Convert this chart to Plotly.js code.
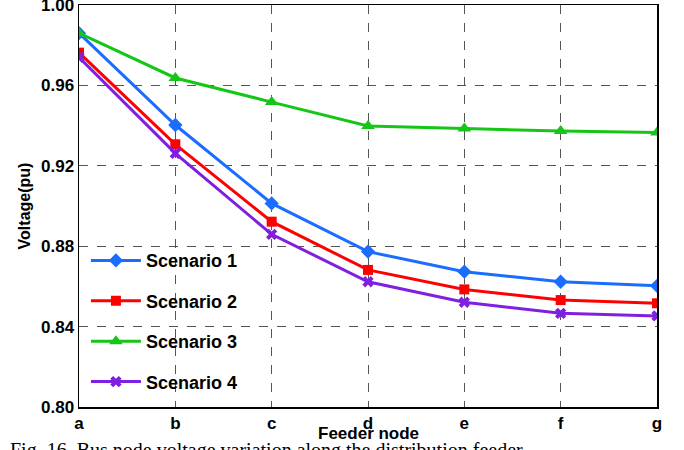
<!DOCTYPE html>
<html>
<head>
<meta charset="utf-8">
<script src="https://cdn.plot.ly/plotly-3.0.1.min.js"></script>
<style>html,body{margin:0;padding:0;background:#fff;}#chart{width:684px;height:450px;}</style>
</head>
<body>
<div id="chart"></div>
<script>
const nodes = ['a', 'b', 'c', 'd', 'e', 'f', 'g'];
const scenario1 = [0.986, 0.9403, 0.9013, 0.8773, 0.8673, 0.8623, 0.8603];
const scenario2 = [0.9763, 0.9307, 0.8922, 0.8682, 0.8585, 0.8532, 0.8516];
const scenario3 = [0.986, 0.9637, 0.9517, 0.9398, 0.9385, 0.9373, 0.9366];
const scenario4 = [0.974, 0.9262, 0.8859, 0.8623, 0.8521, 0.8466, 0.8453];
const yTicks = [0.80, 0.84, 0.88, 0.92, 0.96, 1.00];

const fontFam = 'Arial, "Liberation Sans", sans-serif';
const series = [
  {name: 'Scenario 1', y: scenario1, color: '#1a6dff', symbol: 'diamond', size: 11},
  {name: 'Scenario 2', y: scenario2, color: '#ff0000', symbol: 'square', size: 10},
  {name: 'Scenario 3', y: scenario3, color: '#16c616', symbol: 'triangle-up', size: 12},
  {name: 'Scenario 4', y: scenario4, color: '#7f1fe0', symbol: 'x', size: 10}
];
const traces = series.map((s, i) => ({
  x: nodes, y: s.y, name: s.name, type: 'scatter', mode: 'lines+markers',
  legendgroup: 'g' + i,
  line: {color: s.color, width: 3},
  marker: {color: s.color, symbol: s.symbol, size: s.size, line: {width: 0}}
}));

const axisFont = {family: fontFam, size: 17, color: '#000', weight: 'bold'};
const layout = {
  width: 684, height: 450,
  margin: {l: 79, r: 27, t: 5, b: 43},
  paper_bgcolor: '#fff', plot_bgcolor: '#fff',
  showlegend: true,
  legend: {
    x: 0.012, y: 0.41, xanchor: 'left', yanchor: 'top',
    bgcolor: 'rgba(0,0,0,0)', borderwidth: 0,
    font: {family: fontFam, size: 18, color: '#000', weight: 'bold'},
    traceorder: 'grouped', tracegroupgap: 14, itemwidth: 50
  },
  xaxis: {
    type: 'category', range: [0, 6],
    showline: true, linecolor: '#000', linewidth: 1.5, mirror: true,
    showgrid: true, gridcolor: '#555', griddash: 'dash', gridwidth: 1,
    ticks: '', tickfont: axisFont, ticklabeloverflow: 'allow',
    zeroline: false
  },
  yaxis: {
    range: [0.79999, 1.00001], tickvals: yTicks, tickformat: '.2f',
    showline: true, linecolor: '#000', linewidth: 1.5, mirror: true,
    showgrid: true, gridcolor: '#555', griddash: 'dash', gridwidth: 1,
    ticks: '', tickfont: axisFont, ticklabeloverflow: 'allow',
    title: {text: 'Voltage(pu)', font: {family: fontFam, size: 16, color: '#000', weight: 'bold'}, standoff: 6},
    zeroline: false
  },
  annotations: [{
    xref: 'paper', yref: 'paper', x: 0.5, y: -0.067, xanchor: 'center', yanchor: 'middle',
    text: 'Feeder node', showarrow: false,
    font: {family: fontFam, size: 17, color: '#000', weight: 'bold'}
  }, {
    xref: 'paper', yref: 'paper', x: -0.122, y: -0.075, xanchor: 'left', yanchor: 'top',
    text: 'Fig. 16. Bus node voltage variation along the distribution feeder', showarrow: false,
    font: {family: '"Liberation Serif", "Times New Roman", serif', size: 20, color: '#000'}
  }]
};
Plotly.newPlot('chart', traces, layout, {displayModeBar: false, staticPlot: true});
</script>
</body>
</html>
